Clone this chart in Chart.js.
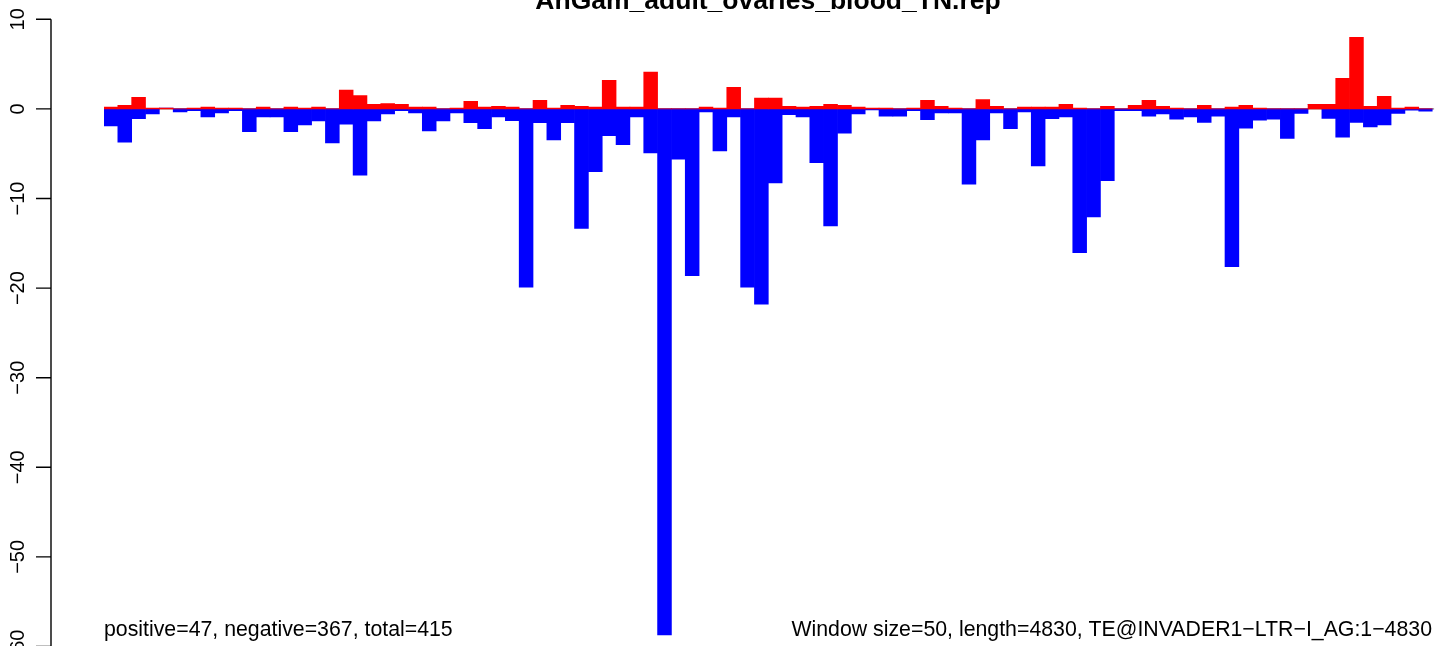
<!DOCTYPE html>
<html>
<head>
<meta charset="utf-8">
<script src="https://cdn.jsdelivr.net/npm/chart.js@4.4.1/dist/chart.umd.min.js"></script>
<style>
  html, body { margin: 0; padding: 0; background: #fff; width: 1444px; height: 646px; overflow: hidden; }
  canvas { display: block; }
</style>
</head>
<body>
<canvas id="repChart" width="1444" height="700"></canvas>
<script>
// window values (window size 50 along TE@INVADER1-LTR-I_AG)
const positive = [
  0.2, 0.4, 1.3, 0.1, 0.1, 0, 0.1, 0.2, 0.1, 0.1,
  0, 0.2, 0, 0.2, 0.1, 0.2, 0, 2.1, 1.5, 0.5,
  0.6, 0.5, 0.2, 0.2, 0, 0.1, 0.85, 0.2, 0.3, 0.2,
  0, 0.95, 0.1, 0.4, 0.3, 0.2, 3.2, 0.2, 0.2, 4.1,
  0, 0, 0, 0.2, 0.1, 2.4, 0, 1.2, 1.2, 0.3,
  0.2, 0.3, 0.5, 0.4, 0.2, 0.1, 0.1, 0, 0.1, 0.95,
  0.3, 0.1, 0, 1.05, 0.3, 0, 0.2, 0.2, 0.2, 0.5,
  0.1, 0, 0.3, 0, 0.4, 0.95, 0.3, 0.1, 0, 0.4,
  0, 0.2, 0.4, 0.1, 0, 0, 0, 0.5, 0.5, 3.4,
  8.0, 0.3, 1.4, 0.1, 0.2, 0
];
const negative = [
  -1.9, -3.7, -1.1, -0.55, 0, -0.33, -0.2, -0.9, -0.45, -0.2,
  -2.55, -0.9, -0.9, -2.55, -1.8, -1.35, -3.8, -1.7, -7.4, -1.35,
  -0.55, -0.2, -0.45, -2.45, -1.35, -0.45, -1.55, -2.2, -0.9, -1.3,
  -19.9, -1.55, -3.45, -1.55, -13.35, -7.0, -3.0, -4.0, -0.9, -4.9,
  -58.7, -5.6, -18.6, -0.33, -4.7, -0.9, -19.9, -21.8, -8.25, -0.65,
  -0.9, -6.0, -13.05, -2.7, -0.55, -0.1, -0.8, -0.8, -0.2, -1.2,
  -0.45, -0.45, -8.4, -3.45, -0.45, -2.2, -0.33, -6.35, -1.1, -0.9,
  -16.05, -12.05, -8.0, -0.2, -0.2, -0.8, -0.55, -1.15, -0.9, -1.5,
  -0.8, -17.6, -2.15, -1.25, -1.15, -3.3, -0.5, 0, -1.05, -3.15,
  -1.5, -2.0, -1.8, -0.5, -0.15, -0.25
];
const windows = positive.map((_, i) => i * 50 + 1);
const yTicks = [10, 0, -10, -20, -30, -40, -50, -60];

const titleText = 'AnGam_adult_ovaries_blood_TN.rep';
const leftNote = 'positive=47, negative=367, total=415';
const rightNote = 'Window size=50, length=4830, TE@INVADER1\u2212LTR\u2212I_AG:1\u22124830';

// 0 line under the bars
const zeroLine = {
  id: 'zeroLine',
  beforeDatasetsDraw(chart) {
    const { ctx, chartArea, scales } = chart;
    const y = scales.y.getPixelForValue(0);
    ctx.save();
    ctx.strokeStyle = '#aaaaaa';
    ctx.lineWidth = 1.6;
    ctx.beginPath();
    ctx.moveTo(chartArea.left, y);
    ctx.lineTo(chartArea.right + 1.5, y);
    ctx.stroke();
    ctx.restore();
  }
};

// R style left axis + title + notes
const rDecor = {
  id: 'rDecor',
  afterDraw(chart) {
    const { ctx, scales } = chart;
    const yScale = scales.y;
    const axisX = 51;
    ctx.save();
    ctx.strokeStyle = '#000';
    ctx.lineWidth = 1.4;
    ctx.beginPath();
    ctx.moveTo(axisX, yScale.getPixelForValue(yTicks[0]));
    ctx.lineTo(axisX, yScale.getPixelForValue(yTicks[yTicks.length - 1]));
    yTicks.forEach(v => {
      const py = yScale.getPixelForValue(v);
      ctx.moveTo(36, py);
      ctx.lineTo(axisX, py);
    });
    ctx.stroke();

    ctx.fillStyle = '#000';
    ctx.font = '20px "Liberation Sans", Arial, sans-serif';
    ctx.textAlign = 'center';
    ctx.textBaseline = 'alphabetic';
    yTicks.forEach(v => {
      const py = yScale.getPixelForValue(v);
      ctx.save();
      ctx.translate(24, py);
      ctx.rotate(-Math.PI / 2);
      ctx.fillText(String(v).replace('-', '\u2212'), 0, 0);
      ctx.restore();
    });

    ctx.font = 'bold 26.5px "Liberation Sans", Arial, sans-serif';
    ctx.fillText(titleText, 768, 9);

    ctx.font = '21.3px "Liberation Sans", Arial, sans-serif';
    ctx.textAlign = 'left';
    ctx.fillText(leftNote, 104, 636);
    ctx.textAlign = 'right';
    ctx.fillText(rightNote, 1432, 636);
    ctx.restore();
  }
};

new Chart(document.getElementById('repChart').getContext('2d'), {
  type: 'bar',
  data: {
    labels: windows,
    datasets: [
      { label: 'positive', data: positive, backgroundColor: '#ff0000', borderWidth: 0 },
      { label: 'negative', data: negative, backgroundColor: '#0000ff', borderWidth: 0 }
    ]
  },
  options: {
    responsive: false,
    animation: false,
    devicePixelRatio: 1,
    layout: { padding: { left: 104, right: 11.4, top: 19.3, bottom: 53.5 } },
    datasets: { bar: { barPercentage: 1, categoryPercentage: 1 } },
    scales: {
      x: { stacked: true, display: false },
      y: { stacked: true, display: false, min: -60, max: 10 }
    },
    plugins: { legend: { display: false }, tooltip: { enabled: false }, title: { display: false } }
  },
  plugins: [zeroLine, rDecor]
});
</script>
</body>
</html>
